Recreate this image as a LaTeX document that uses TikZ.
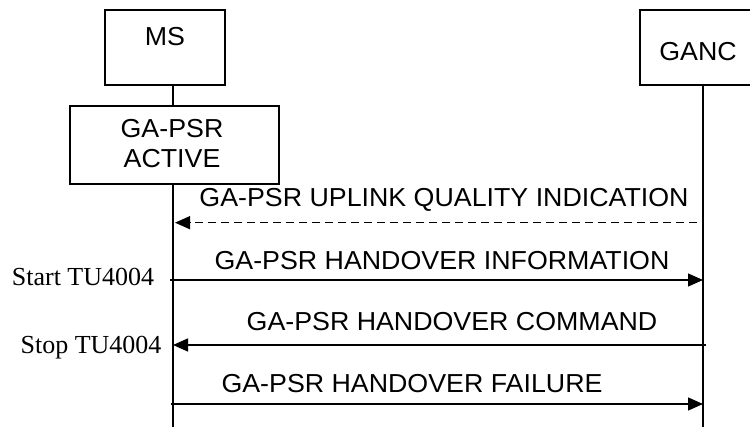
\documentclass[tikz,border=0pt]{standalone}
\usepackage{fontspec}
\setmainfont{Liberation Serif}
\setsansfont{Liberation Sans}
\usetikzlibrary{arrows.meta}
\begin{document}
\begin{tikzpicture}[x=1pt,y=-1pt,
  box/.style={draw,line width=1.3pt,inner sep=0pt},
  lbl/.style={font=\sffamily\fontsize{26}{30}\selectfont,anchor=base,inner sep=0pt,xscale=1.03,transform shape},
  tmr/.style={font=\rmfamily\fontsize{26}{30}\selectfont,anchor=base,inner sep=0pt},
  life/.style={line width=1.3pt},
  msg/.style={line width=1.3pt,-{Triangle[length=15pt,width=13pt]}},
  dmsg/.style={msg,dash pattern=on 8pt off 5pt}]
\useasboundingbox (0,0) rectangle (750,427);
% boxes
\node[box,minimum width=120pt,minimum height=75pt] (ms) at (165,47.5) {};
\node[lbl] (mst) at (165,46) {MS};
\node[box,minimum width=126pt,minimum height=75pt] (ganc) at (703,47.5) {};
\node[lbl] (ganct) at (698,61) {GANC};
\node[box,minimum width=209pt,minimum height=78pt] (act) at (174.5,145) {};
\node[lbl] (actt1) at (172,138) {GA-PSR};
\node[lbl] (actt2) at (172,168) {ACTIVE};
% lifelines
\coordinate (msA) at (173,85);
\coordinate (msB) at (173,106);
\coordinate (msC) at (173,184);
\coordinate (msEnd) at (173,430);
\coordinate (gTop) at (703,85);
\coordinate (gEnd) at (703,430);
\draw[life] (msA) -- (msB);
\draw[life] (msC) -- (msEnd);
\draw[life] (gTop) -- (gEnd);
% message endpoints
\coordinate (m1s) at (697,222.7);
\coordinate (m1e) at (175,222.7);
\coordinate (m2s) at (170,280);
\coordinate (m2e) at (703,280);
\coordinate (m3s) at (706,345);
\coordinate (m3e) at (173,345);
\coordinate (m4s) at (171,404);
\coordinate (m4e) at (703,404);
\draw[dmsg] (m1s) -- (m1e);
\draw[msg] (m2s) -- (m2e);
\draw[msg] (m3s) -- (m3e);
\draw[msg] (m4s) -- (m4e);
% labels
\node[lbl] (l1) at (444,206.5) {GA-PSR UPLINK QUALITY INDICATION};
\node[lbl] (l2) at (442,270) {GA-PSR HANDOVER INFORMATION};
\node[lbl] (l3) at (452,331) {GA-PSR HANDOVER COMMAND};
\node[lbl] (l4) at (412,393) {GA-PSR HANDOVER FAILURE};
\node[tmr] (t1) at (83,286) {Start TU4004};
\node[tmr] (t2) at (91,354) {Stop TU4004};
\end{tikzpicture}
\end{document}
